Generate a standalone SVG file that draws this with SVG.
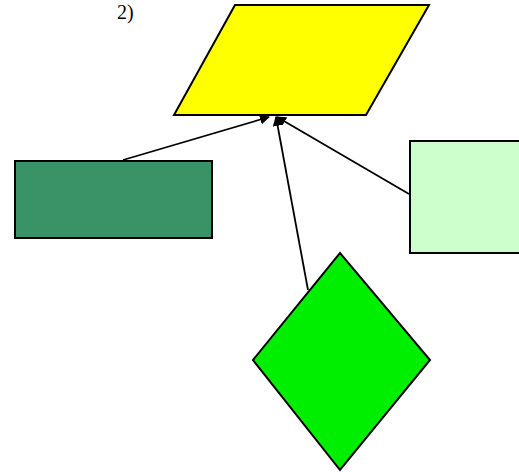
<svg xmlns="http://www.w3.org/2000/svg" width="519" height="472" viewBox="0 0 519 472">
<style>
.n{stroke:#000;stroke-width:2}
.c{stroke:#000;stroke-width:1.8;fill:none;marker-end:url(#ah)}
.t{font-family:"Liberation Serif",serif;font-size:20px;fill:#000}
</style>
<defs>
<marker id="ah" markerWidth="10" markerHeight="10" refX="9" refY="5" orient="auto" markerUnits="userSpaceOnUse">
<path d="M0,0 L10,5 L0,10 Z" fill="#000"/>
</marker>
</defs>
<rect width="519" height="472" fill="#fff"/>
<text class="t" x="117" y="19">2)</text>
<g id="parallelogram"><polygon class="n" points="235,5 429,5 366,115 174,115" fill="#ffff00"/></g>
<g id="darkrect"><rect class="n" x="15" y="161" width="197" height="77" fill="#3a9366"/></g>
<g id="lightrect"><rect class="n" x="410" y="141" width="112" height="112" fill="#ccffcc"/></g>
<g id="diamond"><polygon class="n" points="340,253 430,360 340,470 253,360" fill="#00ee00"/></g>
<g id="connectors">
<line class="c" x1="123" y1="160" x2="269" y2="117"/>
<line class="c" x1="308" y1="290" x2="276" y2="117"/>
<line class="c" x1="409" y1="194" x2="277" y2="117"/>
</g>
</svg>
